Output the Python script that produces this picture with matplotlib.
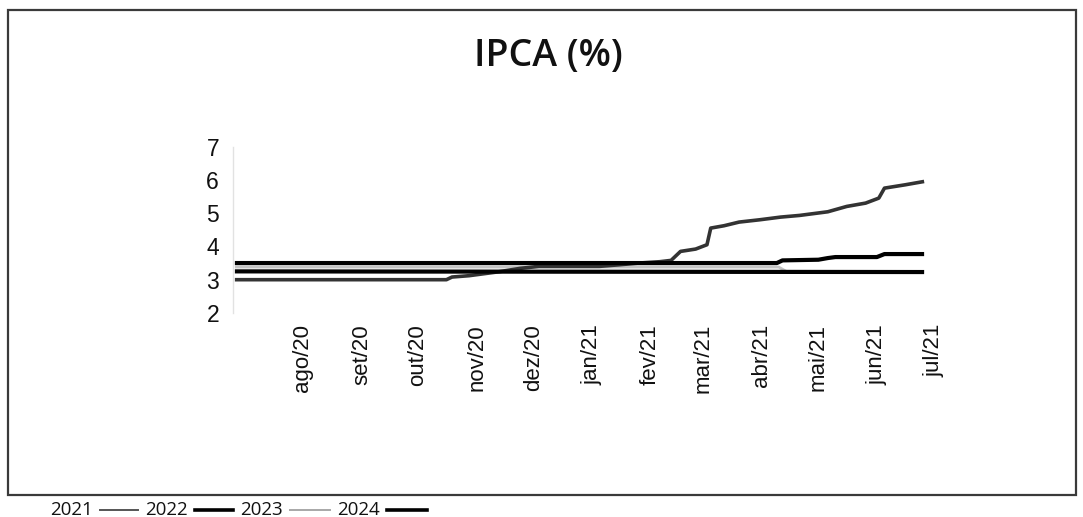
import matplotlib
matplotlib.use("Agg")
import matplotlib.pyplot as plt
from matplotlib.lines import Line2D
from matplotlib.patches import Rectangle
import pandas as pd

# ---- data ----
dates_2021 = ["2020-06-26", "2020-10-16", "2020-10-19", "2020-10-28", "2020-11-05",
              "2020-11-13", "2020-11-24", "2020-12-04", "2021-01-05", "2021-01-16",
              "2021-01-26", "2021-02-06", "2021-02-12", "2021-02-17", "2021-02-25",
              "2021-03-03", "2021-03-05", "2021-03-12", "2021-03-20", "2021-03-31",
              "2021-04-11", "2021-04-21", "2021-05-06", "2021-05-16", "2021-05-26",
              "2021-06-02", "2021-06-05", "2021-06-16", "2021-06-26"]
ipca_2021 = [3.00, 3.00, 3.08, 3.12, 3.18,
             3.24, 3.34, 3.40, 3.40, 3.45,
             3.50, 3.54, 3.58, 3.85, 3.92,
             4.05, 4.55, 4.62, 4.73, 4.80,
             4.88, 4.93, 5.04, 5.20, 5.30,
             5.45, 5.75, 5.85, 5.95]

dates_2022 = ["2020-06-26", "2021-04-09", "2021-04-12", "2021-05-01", "2021-05-06",
              "2021-05-10", "2021-06-01", "2021-06-05", "2021-06-26"]
ipca_2022 = [3.50, 3.50, 3.58, 3.60, 3.65, 3.68, 3.68, 3.77, 3.77]

dates_2023 = ["2020-06-26", "2021-04-10", "2021-04-14", "2021-06-26"]
ipca_2023 = [3.38, 3.38, 3.25, 3.25]

dates_2024 = ["2020-06-26", "2021-06-26"]
ipca_2024 = [3.25, 3.23]

tick_dates = ["2020-08-01", "2020-09-01", "2020-10-01", "2020-11-01", "2020-12-01",
              "2021-01-01", "2021-02-01", "2021-03-01", "2021-04-01", "2021-05-01",
              "2021-06-01", "2021-07-01"]
tick_labels = ["ago/20", "set/20", "out/20", "nov/20", "dez/20", "jan/21",
               "fev/21", "mar/21", "abr/21", "mai/21", "jun/21", "jul/21"]
y_ticks = [2, 3, 4, 5, 6, 7]
legend_years = ["2021", "2022", "2023", "2024"]

# ---- figure ----
W, H = 1083, 517
fig = plt.figure(figsize=(W / 100, H / 100), dpi=100)
fig.patch.set_facecolor("white")

def fx(px):
    return px / W

def fy(py):
    return 1 - py / H

# outer frame
fig.add_artist(Rectangle((fx(8), fy(495)), fx(1076) - fx(8), fy(10) - fy(495),
                         transform=fig.transFigure, fill=False,
                         edgecolor="#3a3a3a", lw=1.6))

ax = fig.add_axes([fx(233), fy(313), fx(960) - fx(233), fy(146.5) - fy(313)])
ax.set_facecolor("white")

styles = {
    "2021": dict(color="#333333", lw=2.6, zorder=3),
    "2022": dict(color="#000000", lw=3.0, zorder=4),
    "2023": dict(color="#c4c4c4", lw=2.0, zorder=2),
    "2024": dict(color="#000000", lw=3.0, zorder=4),
}
series = {
    "2021": (dates_2021, ipca_2021),
    "2022": (dates_2022, ipca_2022),
    "2023": (dates_2023, ipca_2023),
    "2024": (dates_2024, ipca_2024),
}
for name in ["2023", "2021", "2022", "2024"]:
    d, v = series[name]
    ax.plot(pd.to_datetime(d), v, solid_capstyle="butt", **styles[name])

ax.set_ylim(2, 7)
ax.set_yticks(y_ticks)
ax.set_xlim(pd.Timestamp("2020-06-25"), pd.Timestamp("2021-07-15"))
ax.set_xticks(pd.to_datetime(tick_dates))
ax.set_xticklabels(tick_labels, rotation=90, va="top", ha="center")

for s in ["top", "right", "bottom"]:
    ax.spines[s].set_visible(False)
ax.spines["left"].set_color("#e2e2e2")
ax.spines["left"].set_linewidth(1.0)
ax.tick_params(axis="both", length=0)
ax.tick_params(axis="y", pad=10, labelsize=16.5, labelcolor="#111111")
ax.tick_params(axis="x", pad=8, labelsize=16, labelcolor="#111111")
for lab in ax.get_xticklabels() + ax.get_yticklabels():
    lab.set_fontfamily("Liberation Sans")

# title
fig.text(fx(548), fy(56), "IPCA (%)", ha="center", va="center",
         fontsize=27, fontfamily="Open Sans", fontweight="semibold", color="#111111")

# legend strip under the frame
leg_text_x = [50, 145, 240, 337]
leg_line_x = [(100, 138), (195, 233), (290, 330), (387, 427)]
leg_styles = [dict(color="#555555", lw=1.4), dict(color="#000000", lw=2.6),
              dict(color="#a8a8a8", lw=1.4), dict(color="#000000", lw=2.6)]
for yr, tx, (x1, x2), st in zip(legend_years, leg_text_x, leg_line_x, leg_styles):
    fig.text(fx(tx), fy(510), yr, ha="left", va="center", fontsize=13.5,
             fontfamily="Open Sans", color="#111111")
    fig.add_artist(Line2D([fx(x1), fx(x2)], [fy(510), fy(510)],
                          transform=fig.transFigure, **st))

fig.savefig("out.png", dpi=100, facecolor="white")
